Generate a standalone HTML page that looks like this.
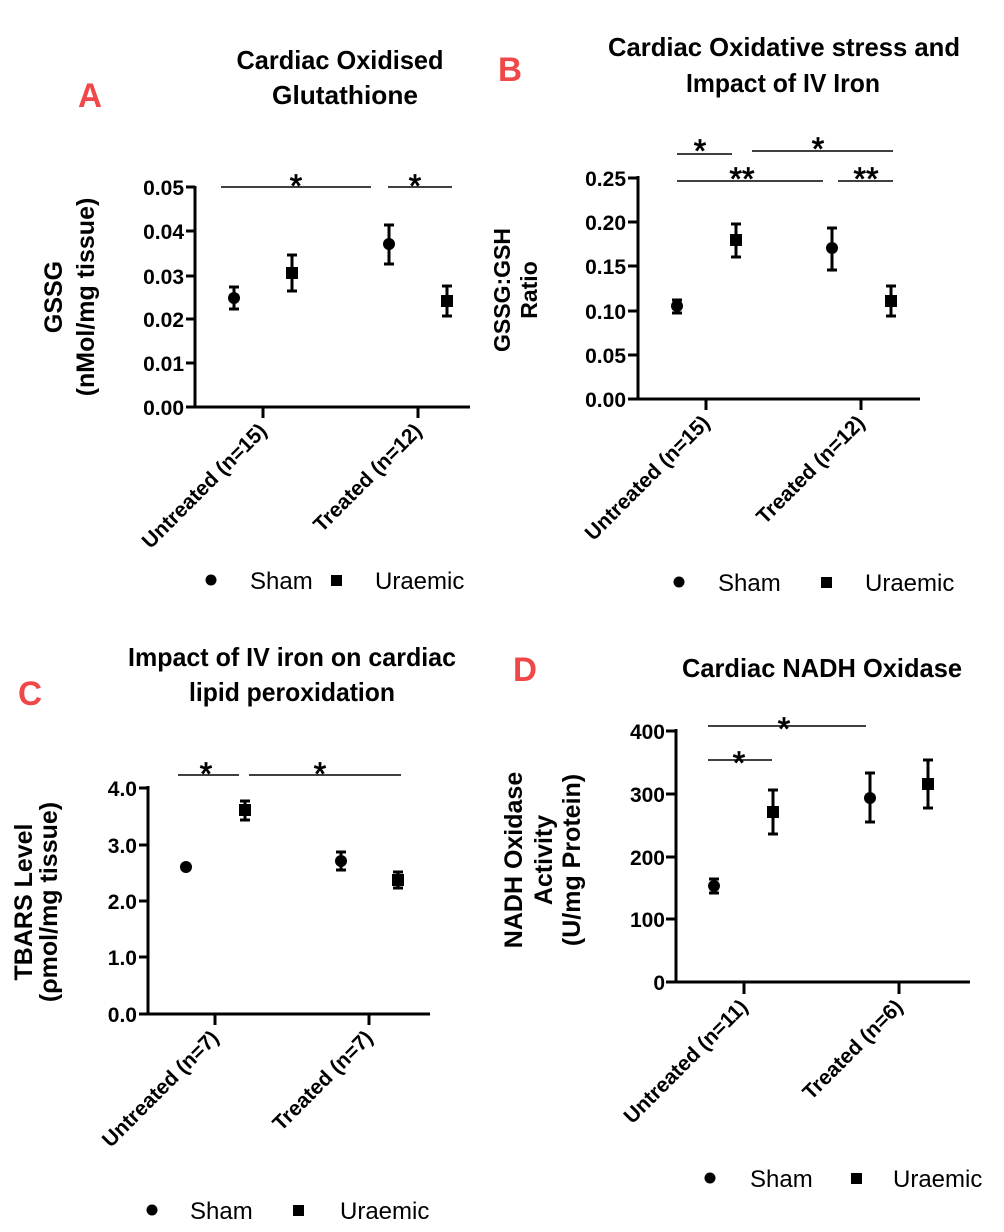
<!DOCTYPE html>
<html><head><meta charset="utf-8"><style>
html,body{margin:0;padding:0;background:#fff;}
svg{display:block;font-family:"Liberation Sans",Arial,sans-serif;}
.t{font-weight:bold;font-size:26px;text-anchor:middle;}
.tk{font-weight:bold;font-size:21px;text-anchor:end;}
.yt{font-weight:bold;font-size:25px;text-anchor:middle;}
.xl{font-weight:bold;font-size:21px;text-anchor:end;}
.lg{font-size:24px;}
.st{font-size:32px;text-anchor:middle;stroke:#000;stroke-width:0.8;}
.lt{fill:#f04848;font-weight:bold;font-size:34px;text-anchor:middle;}
line{stroke:#000;}
</style></head><body>
<svg width="1004" height="1232" viewBox="0 0 1004 1232">
<!-- Panel A -->
<text class="lt" x="90" y="107" textLength="24" lengthAdjust="spacingAndGlyphs">A</text>
<text class="t" x="340" y="69" textLength="207" lengthAdjust="spacingAndGlyphs">Cardiac Oxidised</text>
<text class="t" x="345" y="104" textLength="146" lengthAdjust="spacingAndGlyphs">Glutathione</text>
<text class="yt" transform="translate(62,297) rotate(-90)">GSSG</text>
<text class="yt" transform="translate(94,297) rotate(-90)">(nMol/mg tissue)</text>
<g stroke-width="3">
<line x1="195" y1="186" x2="195" y2="408"/>
<line x1="186" y1="407" x2="470" y2="407"/>
<line x1="186" y1="187" x2="195" y2="187"/><line x1="186" y1="231" x2="195" y2="231"/>
<line x1="186" y1="276" x2="195" y2="276"/><line x1="186" y1="319" x2="195" y2="319"/>
<line x1="186" y1="363" x2="195" y2="363"/>
<line x1="263" y1="407" x2="263" y2="418"/><line x1="418" y1="407" x2="418" y2="418"/>
</g>
<g class="tk"><text x="184" y="195">0.05</text><text x="184" y="239">0.04</text><text x="184" y="284">0.03</text><text x="184" y="327">0.02</text><text x="184" y="371">0.01</text><text x="184" y="415">0.00</text></g>
<g stroke-width="1.5"><line x1="221" y1="187" x2="371" y2="187"/><line x1="388" y1="187" x2="452" y2="187"/></g>
<text class="st" x="296" y="197">*</text><text class="st" x="415" y="197">*</text>
<g stroke-width="3">
<line x1="234" y1="287" x2="234" y2="310"/><line x1="229" y1="287" x2="239" y2="287"/><line x1="229" y1="309" x2="239" y2="309"/>
<line x1="292" y1="255" x2="292" y2="291"/><line x1="287" y1="255" x2="297" y2="255"/><line x1="287" y1="291" x2="297" y2="291"/>
<line x1="389" y1="225" x2="389" y2="264"/><line x1="384" y1="225" x2="394" y2="225"/><line x1="384" y1="264" x2="394" y2="264"/>
<line x1="447" y1="286" x2="447" y2="316"/><line x1="442" y1="286" x2="452" y2="286"/><line x1="442" y1="316" x2="452" y2="316"/>
</g>
<circle cx="234" cy="298" r="6"/><rect x="286" y="267" width="12" height="12"/>
<circle cx="389" cy="244" r="6"/><rect x="441" y="295" width="12" height="12"/>
<text class="xl" transform="translate(268,432) rotate(-45)">Untreated (n=15)</text>
<text class="xl" transform="translate(423,432) rotate(-45)">Treated (n=12)</text>
<circle cx="211" cy="580" r="5.5"/><text class="lg" x="250" y="589">Sham</text>
<rect x="331" y="575" width="11" height="11"/><text class="lg" x="375" y="589">Uraemic</text>

<!-- Panel B -->
<text class="lt" x="510" y="81" textLength="24" lengthAdjust="spacingAndGlyphs">B</text>
<text class="t" x="784" y="56" textLength="352" lengthAdjust="spacingAndGlyphs">Cardiac Oxidative stress and</text>
<text class="t" x="783" y="92" textLength="194" lengthAdjust="spacingAndGlyphs">Impact of IV Iron</text>
<text class="yt" transform="translate(510,290) rotate(-90)" style="font-size:23px">GSSG:GSH</text>
<text class="yt" transform="translate(537,290) rotate(-90)" style="font-size:23px">Ratio</text>
<g stroke-width="3">
<line x1="638" y1="176" x2="638" y2="400"/>
<line x1="628" y1="399" x2="920" y2="399"/>
<line x1="628" y1="178" x2="638" y2="178"/><line x1="628" y1="222" x2="638" y2="222"/>
<line x1="628" y1="266" x2="638" y2="266"/><line x1="628" y1="311" x2="638" y2="311"/>
<line x1="628" y1="355" x2="638" y2="355"/>
<line x1="706" y1="399" x2="706" y2="410"/><line x1="861" y1="399" x2="861" y2="410"/>
</g>
<g class="tk"><text x="626" y="186">0.25</text><text x="626" y="230">0.20</text><text x="626" y="274">0.15</text><text x="626" y="319">0.10</text><text x="626" y="363">0.05</text><text x="626" y="407">0.00</text></g>
<g stroke-width="1.5"><line x1="677" y1="154" x2="732" y2="154"/><line x1="752" y1="151" x2="893" y2="151"/>
<line x1="677" y1="181" x2="823" y2="181"/><line x1="838" y1="181" x2="893" y2="181"/></g>
<text class="st" x="700" y="162">*</text><text class="st" x="818" y="160">*</text>
<text class="st" x="742" y="190">**</text><text class="st" x="866" y="190">**</text>
<g stroke-width="3">
<line x1="677" y1="300" x2="677" y2="313"/><line x1="672" y1="300" x2="682" y2="300"/><line x1="672" y1="313" x2="682" y2="313"/>
<line x1="736" y1="224" x2="736" y2="257"/><line x1="731" y1="224" x2="741" y2="224"/><line x1="731" y1="257" x2="741" y2="257"/>
<line x1="832" y1="228" x2="832" y2="270"/><line x1="827" y1="228" x2="837" y2="228"/><line x1="827" y1="270" x2="837" y2="270"/>
<line x1="891" y1="286" x2="891" y2="316"/><line x1="886" y1="286" x2="896" y2="286"/><line x1="886" y1="316" x2="896" y2="316"/>
</g>
<circle cx="677" cy="306" r="6"/><rect x="730" y="234" width="12" height="12"/>
<circle cx="832" cy="248" r="6"/><rect x="885" y="295" width="12" height="12"/>
<text class="xl" transform="translate(711,424) rotate(-45)">Untreated (n=15)</text>
<text class="xl" transform="translate(866,424) rotate(-45)">Treated (n=12)</text>
<circle cx="679" cy="582" r="5.5"/><text class="lg" x="718" y="591">Sham</text>
<rect x="821" y="577" width="11" height="11"/><text class="lg" x="865" y="591">Uraemic</text>

<!-- Panel C -->
<text class="lt" x="30" y="705" textLength="24" lengthAdjust="spacingAndGlyphs">C</text>
<text class="t" x="292" y="666" textLength="328" lengthAdjust="spacingAndGlyphs">Impact of IV iron on cardiac</text>
<text class="t" x="292" y="701" textLength="206" lengthAdjust="spacingAndGlyphs">lipid peroxidation</text>
<text class="yt" transform="translate(32,902) rotate(-90)">TBARS Level</text>
<text class="yt" transform="translate(57,902) rotate(-90)">(ρmol/mg tissue)</text>
<g stroke-width="3">
<line x1="148" y1="786" x2="148" y2="1015"/>
<line x1="139" y1="1014" x2="430" y2="1014"/>
<line x1="139" y1="788" x2="148" y2="788"/><line x1="139" y1="845" x2="148" y2="845"/>
<line x1="139" y1="901" x2="148" y2="901"/><line x1="139" y1="957" x2="148" y2="957"/>
<line x1="215" y1="1014" x2="215" y2="1025"/><line x1="369" y1="1014" x2="369" y2="1025"/>
</g>
<g class="tk"><text x="137" y="796">4.0</text><text x="137" y="853">3.0</text><text x="137" y="909">2.0</text><text x="137" y="965">1.0</text><text x="137" y="1022">0.0</text></g>
<g stroke-width="1.5"><line x1="178" y1="775" x2="239" y2="775"/><line x1="249" y1="775" x2="401" y2="775"/></g>
<text class="st" x="206" y="785">*</text><text class="st" x="320" y="785">*</text>
<g stroke-width="3">
<line x1="245" y1="801" x2="245" y2="820"/><line x1="240" y1="801" x2="250" y2="801"/><line x1="240" y1="820" x2="250" y2="820"/>
<line x1="341" y1="852" x2="341" y2="870"/><line x1="336" y1="852" x2="346" y2="852"/><line x1="336" y1="870" x2="346" y2="870"/>
<line x1="398" y1="872" x2="398" y2="888"/><line x1="393" y1="872" x2="403" y2="872"/><line x1="393" y1="888" x2="403" y2="888"/>
</g>
<circle cx="186" cy="867" r="6"/><rect x="239" y="804" width="12" height="12"/>
<circle cx="341" cy="861" r="6"/><rect x="392" y="874" width="12" height="12"/>
<text class="xl" transform="translate(220,1039) rotate(-45)">Untreated (n=7)</text>
<text class="xl" transform="translate(374,1039) rotate(-45)">Treated (n=7)</text>
<circle cx="152" cy="1210" r="5.5"/><text class="lg" x="190" y="1219">Sham</text>
<rect x="293" y="1205" width="11" height="11"/><text class="lg" x="340" y="1219">Uraemic</text>

<!-- Panel D -->
<text class="lt" x="525" y="681" textLength="24" lengthAdjust="spacingAndGlyphs">D</text>
<text class="t" x="822" y="677" textLength="280" lengthAdjust="spacingAndGlyphs">Cardiac NADH Oxidase</text>
<text class="yt" transform="translate(522,860) rotate(-90)">NADH Oxidase</text>
<text class="yt" transform="translate(552,860) rotate(-90)">Activity</text>
<text class="yt" transform="translate(580,860) rotate(-90)">(U/mg Protein)</text>
<g stroke-width="3">
<line x1="676" y1="729" x2="676" y2="983"/>
<line x1="666" y1="982" x2="970" y2="982"/>
<line x1="666" y1="731" x2="676" y2="731"/><line x1="666" y1="794" x2="676" y2="794"/>
<line x1="666" y1="857" x2="676" y2="857"/><line x1="666" y1="919" x2="676" y2="919"/>
<line x1="744" y1="982" x2="744" y2="994"/><line x1="899" y1="982" x2="899" y2="994"/>
</g>
<g class="tk"><text x="665" y="739">400</text><text x="665" y="802">300</text><text x="665" y="865">200</text><text x="665" y="927">100</text><text x="665" y="990">0</text></g>
<g stroke-width="1.5"><line x1="708" y1="726" x2="866" y2="726"/><line x1="708" y1="760" x2="772" y2="760"/></g>
<text class="st" x="784" y="740">*</text><text class="st" x="739" y="774">*</text>
<g stroke-width="3">
<line x1="714" y1="879" x2="714" y2="893"/><line x1="709" y1="879" x2="719" y2="879"/><line x1="709" y1="893" x2="719" y2="893"/>
<line x1="773" y1="790" x2="773" y2="834"/><line x1="768" y1="790" x2="778" y2="790"/><line x1="768" y1="834" x2="778" y2="834"/>
<line x1="870" y1="773" x2="870" y2="822"/><line x1="865" y1="773" x2="875" y2="773"/><line x1="865" y1="822" x2="875" y2="822"/>
<line x1="928" y1="760" x2="928" y2="808"/><line x1="923" y1="760" x2="933" y2="760"/><line x1="923" y1="808" x2="933" y2="808"/>
</g>
<circle cx="714" cy="886" r="6"/><rect x="767" y="806" width="12" height="12"/>
<circle cx="870" cy="798" r="6"/><rect x="922" y="778" width="12" height="12"/>
<text class="xl" transform="translate(749,1008) rotate(-45)">Untreated (n=11)</text>
<text class="xl" transform="translate(904,1008) rotate(-45)">Treated (n=6)</text>
<circle cx="710" cy="1178" r="5.5"/><text class="lg" x="750" y="1187">Sham</text>
<rect x="851" y="1173" width="11" height="11"/><text class="lg" x="893" y="1187">Uraemic</text>
</svg>
</body></html>
